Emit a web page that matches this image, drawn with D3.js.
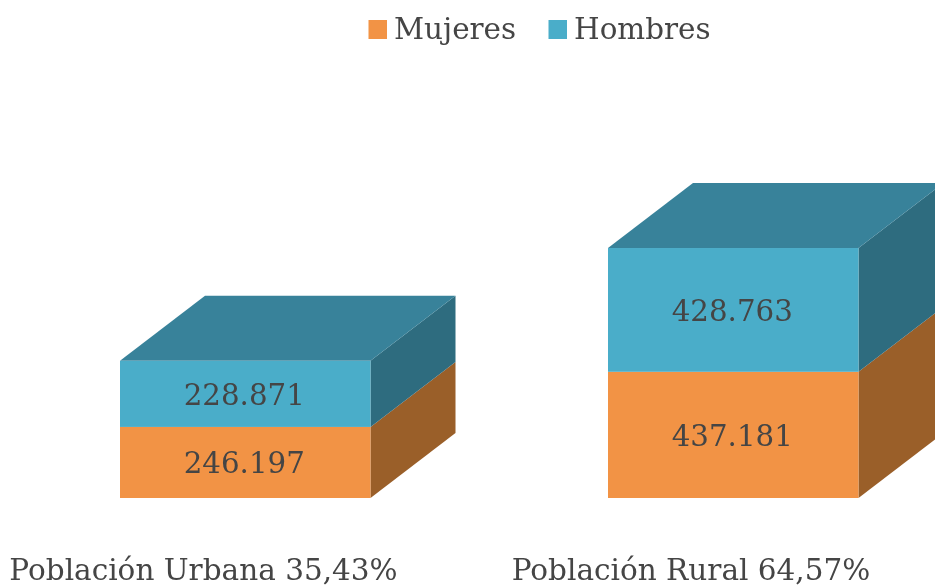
<!DOCTYPE html>
<html><head><meta charset="utf-8">
<script src="https://cdn.jsdelivr.net/npm/d3@7"></script>
<style>html,body{margin:0;background:#fff}svg{display:block;filter:blur(0.6px)}text{font-family:"DejaVu Serif","Liberation Serif",serif;fill:#454545}</style>
</head><body><svg width="935" height="587"></svg>
<script>
const categories=["Población Urbana 35,43%","Población Rural 64,57%"];
const mujeres=[246197,437181];
const hombres=[228871,428763];
const seriesNames=["Mujeres","Hombres"];
const valueLabels=[["246.197","228.871"],["437.181","428.763"]];
const colors=["#F29345","#4AADC9"];
const sideColors=["#9A5F29","#2E6C7F"];
const topColor="#38829A";

const svg=d3.select("svg");
const x=d3.scaleOrdinal().domain(categories).range([120,608]);
const barW=250.5, dx=85, dy=65;
const y=d3.scaleLinear().domain([0,866000]).range([498,248]);
const path=pts=>d3.line()(pts);
categories.forEach((c,i)=>{
  const x0=x(c),x1=x0+barW;
  const y0=y(0),y1=y(mujeres[i]),y2=y(mujeres[i]+hombres[i]);
  svg.append("path").attr("d",path([[x1,y0],[x1+dx,y0-dy],[x1+dx,y1-dy],[x1,y1]])+"Z").attr("fill",sideColors[0]);
  svg.append("path").attr("d",path([[x1,y1],[x1+dx,y1-dy],[x1+dx,y2-dy],[x1,y2]])+"Z").attr("fill",sideColors[1]);
  svg.append("path").attr("d",path([[x0,y2],[x1,y2],[x1+dx,y2-dy],[x0+dx,y2-dy]])+"Z").attr("fill",topColor);
  svg.append("rect").attr("x",x0).attr("y",y1).attr("width",barW).attr("height",y0-y1).attr("fill",colors[0]);
  svg.append("rect").attr("x",x0).attr("y",y2).attr("width",barW).attr("height",y1-y2).attr("fill",colors[1]);
  [[y0,y1],[y1,y2]].forEach((p,k)=>{
    svg.append("text").attr("x",x0+barW/2-1).attr("y",(p[0]+p[1])/2+11).attr("text-anchor","middle").attr("font-size",29.3).text(valueLabels[i][k]);
  });
});
const labelX=[203.5,691];
categories.forEach((c,i)=>svg.append("text").attr("x",labelX[i]).attr("y",580).attr("text-anchor","middle").attr("font-size",29.5).text(c));
const lx=[368.5,548.5], tx=[394,574];
seriesNames.forEach((s,i)=>{
  svg.append("rect").attr("x",lx[i]).attr("y",20).attr("width",18.5).attr("height",19).attr("fill",colors[i]);
  svg.append("text").attr("x",tx[i]).attr("y",39).attr("font-size",29.4).text(s);
});
</script></body></html>
